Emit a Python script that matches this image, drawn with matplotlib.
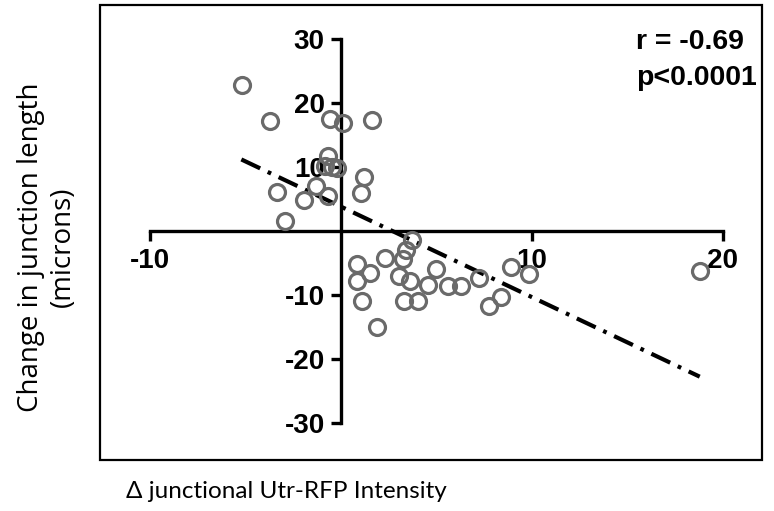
import matplotlib
matplotlib.use("Agg")
import matplotlib.pyplot as plt
from matplotlib.patches import Rectangle

# ---- data ----
x_vals = [-5.18, -3.70, -0.56, 0.10, 1.62, -0.65, -0.82, -0.47, -0.21, 1.24,
          -1.29, -3.35, 1.05, -0.68, -1.91, -2.92,
          3.72, 3.40, 3.28, 2.32, 0.84, 1.53, 3.07, 4.99, 0.84, 3.63,
          4.59, 5.63, 6.28, 7.24, 8.90, 9.87, 1.10, 3.31, 4.06, 8.39,
          7.78, 1.88, 18.81]
y_vals = [22.8, 17.2, 17.6, 16.9, 17.4, 11.7, 10.2, 10.0, 9.8, 8.5,
          7.1, 6.1, 5.9, 5.4, 4.9, 1.5,
          -1.4, -3.0, -4.4, -4.3, -5.2, -6.5, -7.0, -5.9, -7.8, -7.8,
          -8.5, -8.6, -8.6, -7.4, -5.7, -6.7, -11.0, -11.0, -11.0, -10.3,
          -11.8, -15.0, -6.2]
fit_x = [-5.2, 18.8]
fit_y = [11.2, -22.8]

x_ticks = [-10, 10, 20]
x_tick_labels = ["-10", "10", "20"]
y_ticks = [-30, -20, -10, 10, 20, 30]
y_tick_labels = ["-30", "-20", "-10", "10", "20", "30"]

W, H = 774, 511
fig = plt.figure(figsize=(W / 100, H / 100), dpi=100)
L, R, T, B = 100, 762, 5, 460
ax = fig.add_axes([L / W, (H - B) / H, (R - L) / W, (B - T) / H])
ax.set_xlim(-12.60, 22.06)
ax.set_ylim(-35.84, 35.37)

# frame box
ax.add_patch(Rectangle((0, 0), 1, 1, transform=ax.transAxes, fill=False,
                       lw=1.6, ec="black", clip_on=False, zorder=5))

for s in ["top", "right"]:
    ax.spines[s].set_visible(False)
ax.spines["left"].set_position(("data", 0))
ax.spines["bottom"].set_position(("data", 0))
ax.spines["left"].set_bounds(-30, 30)
ax.spines["bottom"].set_bounds(-10, 20)
for s in ["left", "bottom"]:
    ax.spines[s].set_linewidth(2.4)
    ax.spines[s].set_zorder(1)

ax.set_xticks(x_ticks)
ax.set_xticklabels(x_tick_labels)
ax.set_yticks(y_ticks)
ax.set_yticklabels(y_tick_labels)
ax.tick_params(axis="both", direction="out", length=7.5, width=2.4,
               labelsize=20, pad=4)
ax.tick_params(axis="x", pad=5)
for lab in ax.get_xticklabels() + ax.get_yticklabels():
    lab.set_fontfamily("Liberation Sans")
    lab.set_fontweight("bold")

ax.plot(fit_x, fit_y, color="black", lw=3.0,
        linestyle=(0, (5.0, 2.0, 0.9, 2.0)), dash_capstyle="butt", zorder=3)
ax.plot(x_vals, y_vals, linestyle="none", marker="o", markersize=11.5,
        markerfacecolor="none", markeredgecolor="#6a6a6a",
        markeredgewidth=2.3, zorder=4)

fig.text(636 / W, 1 - 42 / H, "r = -0.69", fontsize=20.5, fontweight="bold",
         family="Liberation Sans", ha="left", va="center")
fig.text(636 / W, 1 - 78 / H, "p<0.0001", fontsize=20.5, fontweight="bold",
         family="Liberation Sans", ha="left", va="center")

fig.text(286.5 / W, 1 - 491 / H, "\u0394 junctional Utr-RFP Intensity",
         fontsize=17.5, family=["Lato", "DejaVu Sans"], ha="center", va="center")
fig.text(47 / W, 1 - 247 / H, "Change in junction length\n(microns)",
         fontsize=20, family="Open Sans", ha="center", va="center",
         rotation=90, linespacing=1.15)

fig.savefig("out.png", dpi=100)
